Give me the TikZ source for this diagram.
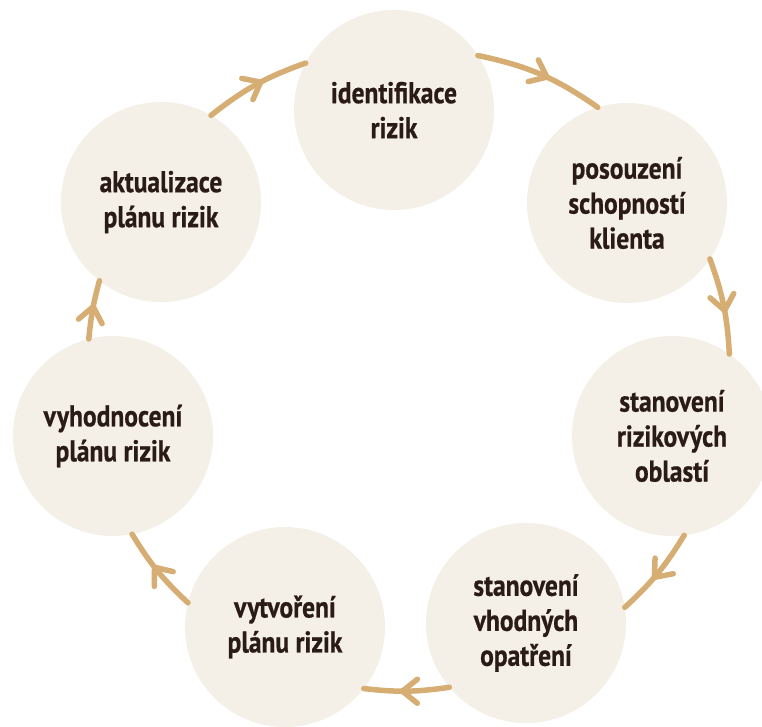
\documentclass[tikz,border=0pt]{standalone}
\usepackage{fontspec}
\setmainfont{PT Sans}[FakeStretch=0.85, BoldFeatures={FakeBold=0.6}]
\usetikzlibrary{decorations.markings}

\definecolor{ringfill}{HTML}{F4EFE7}
\definecolor{flowtan}{HTML}{D6AE74}
\definecolor{labelink}{HTML}{2A1B17}

\tikzset{
  stage/.style={circle, fill=ringfill, minimum size=200pt, inner sep=0pt,
    outer sep=0pt, align=center, text=labelink,
    font=\fontsize{30}{35}\selectfont\bfseries},
  chevron/.style={draw=flowtan, line width=5.5pt, line cap=round, line join=round},
  flow/.style={draw=flowtan, line width=5.5pt, line cap=round,
    postaction={decorate},
    decoration={markings, mark=at position 0.55 with
      {\draw[chevron] (-15pt,12pt) -- (0pt,0pt) -- (-15pt,-12pt);}}},
}

\begin{document}
\begin{tikzpicture}[x=1pt, y=1pt]
  \useasboundingbox (0,0) rectangle (762,726);
  \clip (0,0) rectangle (762,726);

  % the seven stages of the cycle
  \node[stage] (ident)  at (394,616) {identifikace\\rizik};
  \node[stage] (posouz) at (627,523) {posouzení\\schopností\\klienta};
  \node[stage] (oblast) at (672,290) {stanovení\\rizikových\\oblastí};
  \node[stage] (opatr)  at (526,103) {stanovení\\vhodných\\opatření};
  \node[stage] (vytvor) at (285,99)  {vytvoření\\plánu rizik};
  \node[stage] (vyhod)  at (113,290) {vyhodnocení\\plánu rizik};
  \node[stage] (aktual) at (161,524) {aktualizace\\plánu rizik};

  % clockwise connectors
  \draw[flow] (ident.33.7)   to[bend left=11.6] (posouz.107.4);
  \draw[flow] (posouz.-34.5) to[bend left=8.4]  (oblast.55.8);
  \draw[flow] (oblast.-83.8) to[bend left=8]    (opatr.9.2);
  \draw[flow] (opatr.-140.2) to[bend left=7.4]  (vytvor.-38.2);
  \draw[flow] (vytvor.166.2) to[bend left=7.8]  (vyhod.-79.1);
  \draw[flow] (vyhod.104.7)  to[bend left=5]    (aktual.-128.7);
  \draw[flow] (aktual.60.1)  to[bend left=9.4]  (ident.152.9);
\end{tikzpicture}
\end{document}
